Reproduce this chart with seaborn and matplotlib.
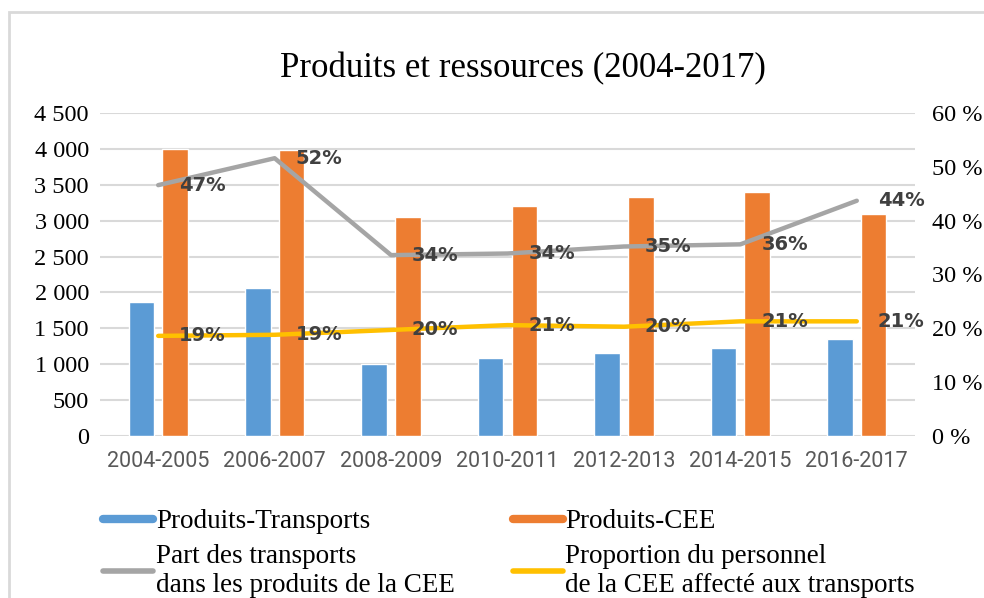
import numpy as np
import pandas as pd
import matplotlib.pyplot as plt
import seaborn as sns
from matplotlib.lines import Line2D
from matplotlib.patches import Rectangle
from matplotlib.ticker import FuncFormatter
from matplotlib.font_manager import FontProperties

periodes = ["2004-2005", "2006-2007", "2008-2009", "2010-2011", "2012-2013", "2014-2015", "2016-2017"]
produits_transports = [1860, 2060, 1010, 1090, 1160, 1220, 1350]
produits_cee = [4000, 3990, 3050, 3200, 3330, 3400, 3090]
part_transports = [0.466, 0.516, 0.336, 0.339, 0.352, 0.356, 0.437]
proportion_personnel = [0.186, 0.188, 0.197, 0.206, 0.203, 0.213, 0.213]

noms_series = ["Produits-Transports", "Produits-CEE"]
nom_part = "Part des transports\ndans les produits de la CEE"
nom_prop = "Proportion du personnel\nde la CEE affecté aux transports"

bleu, orange, gris, jaune = "#5B9BD5", "#ED7D31", "#A5A5A5", "#FFC000"

df = pd.DataFrame({
    "periode": periodes * 2,
    "valeur": produits_transports + produits_cee,
    "serie": [noms_series[0]] * len(periodes) + [noms_series[1]] * len(periodes),
})

sns.set_theme(style="white")
plt.rcParams["font.family"] = ["Liberation Serif", "DejaVu Serif"]
plt.rcParams["text.color"] = "black"
plt.rcParams["xtick.color"] = "black"
plt.rcParams["ytick.color"] = "black"

fig = plt.figure(figsize=(9.84, 5.98), dpi=100)
ax = fig.add_axes([100 / 984, 1 - 436 / 598, (915 - 100) / 984, (436 - 113) / 598])

sns.barplot(data=df, x="periode", y="valeur", hue="serie", palette=[bleu, orange],
            saturation=1, width=0.58, gap=0.243, legend=False, ax=ax, zorder=2)
ax.set_ylim(0, 4500)
ax.set_yticks(np.arange(0, 4501, 500))
ax.yaxis.set_major_formatter(FuncFormatter(lambda v, p: f"{int(v):,}".replace(",", " ")))
ax.set_xlim(-0.5, len(periodes) - 0.5)
ax.grid(axis="y", color="#d9d9d9", lw=1.5, zorder=0)
ax.set_axisbelow(True)
ax.set_xlabel("")
ax.set_ylabel("")
ax.tick_params(axis="y", length=0, pad=8)
ax.tick_params(axis="x", length=0, pad=11)
for s in ax.spines.values():
    s.set_visible(False)

ax2 = ax.twinx()
x = np.arange(len(periodes))
sns.lineplot(x=x, y=part_transports, color=gris, lw=3.2, ax=ax2)
sns.lineplot(x=x, y=proportion_personnel, color=jaune, lw=3.2, ax=ax2)
ax2.set_ylim(0, 0.6)
ax2.set_yticks(np.arange(0, 0.61, 0.1))
ax2.yaxis.set_major_formatter(FuncFormatter(lambda v, p: f"{round(v * 100)} %"))
ax2.tick_params(axis="y", length=0, pad=12)
ax2.grid(False)
for s in ax2.spines.values():
    s.set_visible(False)

fig.canvas.draw()
for lab in ax.get_yticklabels() + ax2.get_yticklabels():
    lab.set_fontproperties(FontProperties(family="Liberation Serif", size=17.5))
    lab.set_color("black")
for lab in ax.get_xticklabels():
    lab.set_fontproperties(FontProperties(family="Roboto", size=15.5))
    lab.set_color("#595959")

for serie in (part_transports, proportion_personnel):
    for i, v in enumerate(serie):
        ax2.annotate(f"{v:.0%}", (i, v), xytext=(15, 0), textcoords="offset points",
                     ha="left", va="center", fontsize=14, fontweight="bold",
                     color="#404040", family=["DejaVu Sans"])

fig.text(0.531, 1 - 69 / 598, "Produits et ressources (2004-2017)", ha="center", va="center", fontsize=25)

handles = [Line2D([], [], color=bleu, lw=6), Line2D([], [], color=gris, lw=4),
           Line2D([], [], color=orange, lw=6), Line2D([], [], color=jaune, lw=4)]
labels = [noms_series[0], nom_part, noms_series[1], nom_prop]
fig.legend(handles, labels, loc="upper left", bbox_to_anchor=(103 / 984, 1 - 509 / 598),
           ncol=2, frameon=False, fontsize=19.5, handlelength=1.85, handletextpad=0.1,
           borderpad=0, borderaxespad=0, labelspacing=0.38, columnspacing=2.14)

fig.patches.append(Rectangle((9 / 984, -0.1), 1.2, 1.1 - 12 / 598, transform=fig.transFigure,
                             fill=False, edgecolor="#d9d9d9", lw=2))

fig.savefig("out.png", dpi=100)
